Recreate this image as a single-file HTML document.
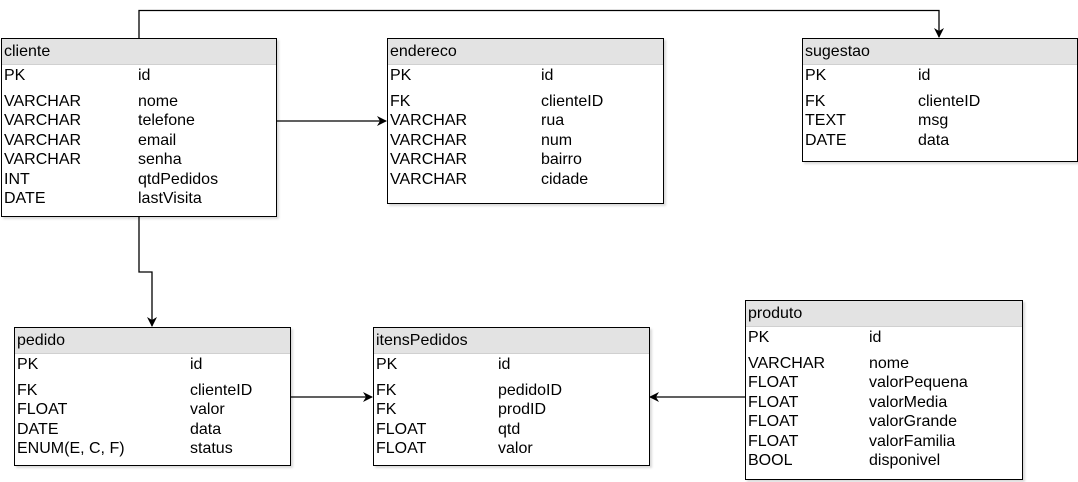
<!DOCTYPE html>
<html><head><style>
body{margin:0;width:1078px;height:482px;background:#fff;position:relative;font-family:"Liberation Sans",sans-serif;font-size:16px;color:#000;overflow:hidden}
.t{position:absolute;border:1px solid #000;background:#fff;box-sizing:border-box;box-shadow:2px 2px 2px rgba(0,0,0,0.15)}
.h{height:25px;background:#e3e3e3;line-height:25px;padding-left:2px;border-bottom:1px solid #d0d0d0}
.r{position:absolute;left:2px;line-height:18px;white-space:nowrap}
.c{position:absolute;line-height:18px;white-space:nowrap}
svg{position:absolute;left:0;top:0}
</style></head><body>
<svg width="1078" height="482">
<defs><marker id="a" markerWidth="10" markerHeight="10" refX="9" refY="5" orient="auto" markerUnits="userSpaceOnUse"><path d="M0,0 L10,5 L0,10 L3,5 Z" fill="#000"/></marker></defs>
<g stroke="#000" stroke-width="1.3" fill="none">
<path d="M139,38 V10.5 H939 V37" marker-end="url(#a)"/>
<path d="M276,121 H386" marker-end="url(#a)"/>
<path d="M139,216 V272 H152 V326" marker-end="url(#a)"/>
<path d="M290,397 H372" marker-end="url(#a)"/>
<path d="M745,397 H650" marker-end="url(#a)"/>
</g></svg>
<div id="w"></div>
<script>
const T=[
[1,38,276,179,136,"cliente",[["PK","id"],null,["VARCHAR","nome"],["VARCHAR","telefone"],["VARCHAR","email"],["VARCHAR","senha"],["INT","qtdPedidos"],["DATE","lastVisita"]]],
[387,38,277,166,153,"endereco",[["PK","id"],null,["FK","clienteID"],["VARCHAR","rua"],["VARCHAR","num"],["VARCHAR","bairro"],["VARCHAR","cidade"]]],
[802,38,276,124,115,"sugestao",[["PK","id"],null,["FK","clienteID"],["TEXT","msg"],["DATE","data"]]],
[14,327,277,139,175,"pedido",[["PK","id"],null,["FK","clienteID"],["FLOAT","valor"],["DATE","data"],["ENUM(E, C, F)","status"]]],
[373,327,277,139,124,"itensPedidos",[["PK","id"],null,["FK","pedidoID"],["FK","prodID"],["FLOAT","qtd"],["FLOAT","valor"]]],
[745,300,278,180,123,"produto",[["PK","id"],null,["VARCHAR","nome"],["FLOAT","valorPequena"],["FLOAT","valorMedia"],["FLOAT","valorGrande"],["FLOAT","valorFamilia"],["BOOL","disponivel"]]]];
let h="";
for(const [x,y,w,ht,c2,n,rows] of T){
h+=`<div class="t" style="left:${x}px;top:${y}px;width:${w}px;height:${ht}px"><div class="h">${n}</div>`;
let cy=28;rows.forEach((r,i)=>{if(!r){cy+=6;return;}
h+=`<div class="r" style="top:${cy}px">${r[0]}</div><div class="c" style="left:${c2}px;top:${cy}px">${r[1]}</div>`;cy+=19.5;});
h+=`</div>`;}
document.getElementById("w").innerHTML=h;
</script>
</body></html>
